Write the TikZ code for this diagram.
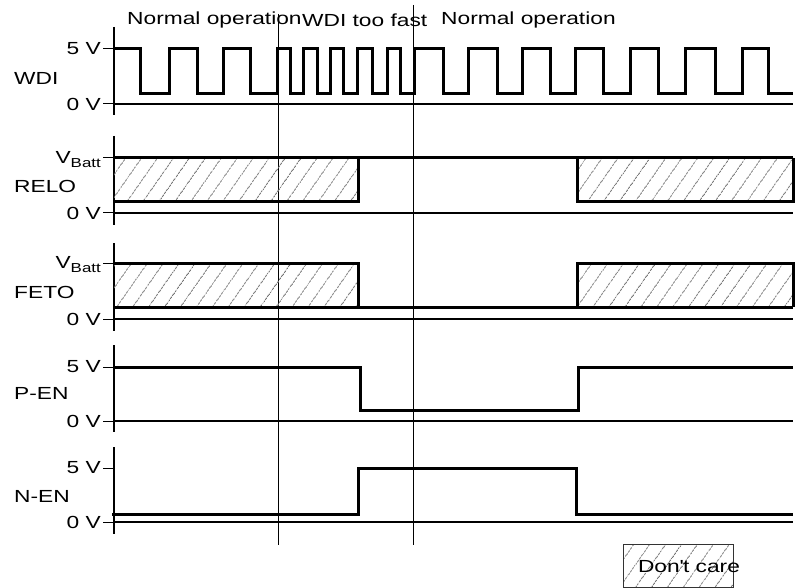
\documentclass[tikz,border=0pt]{standalone}
\usepackage{fontspec}
\setmainfont{Liberation Sans}[FakeStretch=1.3]
\usetikzlibrary{patterns.meta}
\newcommand{\vbatt}{V\raisebox{-4pt}{\fontsize{13}{15}\selectfont Batt}}

\begin{document}
\begin{tikzpicture}[x=1pt,y=-1pt]
  \tikzset{ lbl/.style={font=\fontsize{17.5}{20}\selectfont,inner sep=0pt},
    sig/.style={line width=3pt,line join=miter},
    zline/.style={line width=2pt},
    ax/.style={line width=2.5pt},
    tk/.style={line width=1pt},
    hatch/.style={pattern={Lines[angle=55,distance=13pt,line width=0.9pt]},pattern color=black!55},
  }
  \useasboundingbox (0,0) rectangle (795,588);

  % phase markers and their titles
  \draw[tk] (278,14) -- (278,545);
  \draw[tk] (413,5) -- (413,545);
  \node[lbl,anchor=west] (n1) at (127,20) {Normal operation};
  \node[lbl,anchor=west] (fast) at (n1.east) {WDI too fast};
  \node[lbl,anchor=west] (n2) at (441,20) {Normal operation};

  % WDI
  \draw[ax] (114,27) -- (114,115);
  \draw[tk] (103,49) -- (114,49);
  \draw[tk] (103,104) -- (114,104);
  \draw[zline] (114,104) -- (793,104);
  \node[lbl,anchor=east] (w5) at (101,49) {5 V};
  \node[lbl,anchor=east] (w0) at (101,104) {0 V};
  \node[lbl,anchor=west] (wdi) at (14,78) {WDI};
  \draw[sig] (114,49) -| (140,94) -| (169,49) -| (197,94) -| (223,49) -| (250,94)
    -| (277,49) -| (290,94) -| (303,49) -| (317,94) -| (330,49) -| (343,94)
    -| (357,49) -| (372,94) -| (387,49) -| (400,94) -| (414,49) -| (443,94)
    -| (468,49) -| (497,94) -| (522,49) -| (550,94) -| (575,49) -| (603,94)
    -| (630,49) -| (658,94) -| (685,49) -| (715,94) -| (742,49) -| (768,94) -- (793,94);

  % RELO
  \draw[ax] (114,136) -- (114,225);
  \draw[tk] (103,158) -- (114,158);
  \draw[tk] (103,213) -- (114,213);
  \draw[zline] (114,213) -- (793,213);
  \node[lbl,anchor=base east] (rv) at (101,164) {\vbatt};
  \node[lbl,anchor=east] (r0) at (101,213) {0 V};
  \node[lbl,anchor=west] (relo) at (14,186) {RELO};
  \path[hatch] (114,158) rectangle (358,202);
  \path[hatch] (577,158) rectangle (793,202);
  \draw[sig] (114,158) -- (793,158);
  \draw[sig] (114,202) -| (358,158);
  \draw[sig] (577,158) |- (793,202) -- (793,158);

  % FETO
  \draw[ax] (114,243) -- (114,331);
  \draw[tk] (103,263) -- (114,263);
  \draw[tk] (103,319) -- (114,319);
  \draw[zline] (114,319) -- (793,319);
  \node[lbl,anchor=base east] (fv) at (101,269) {\vbatt};
  \node[lbl,anchor=east] (f0) at (101,319) {0 V};
  \node[lbl,anchor=west] (feto) at (14,292) {FETO};
  \path[hatch] (114,263) rectangle (358,307);
  \path[hatch] (577,263) rectangle (793,307);
  \draw[sig] (114,307) -- (793,307);
  \draw[sig] (114,263) -| (358,307);
  \draw[sig] (577,307) |- (793,263) -- (793,307);

  % P-EN
  \draw[ax] (114,345) -- (114,432);
  \draw[tk] (103,367) -- (114,367);
  \draw[tk] (103,421) -- (114,421);
  \draw[zline] (114,421) -- (793,421);
  \node[lbl,anchor=east] (p5) at (101,367) {5 V};
  \node[lbl,anchor=east] (p0) at (101,421) {0 V};
  \node[lbl,anchor=west] (pen) at (14,393) {P-EN};
  \draw[sig] (114,367) -| (360,410) -| (578,367) -- (793,367);

  % N-EN
  \draw[ax] (114,447) -- (114,534);
  \draw[tk] (103,468) -- (114,468);
  \draw[tk] (103,522) -- (114,522);
  \draw[zline] (114,522) -- (793,522);
  \node[lbl,anchor=east] (n5) at (101,468) {5 V};
  \node[lbl,anchor=east] (n0) at (101,522) {0 V};
  \node[lbl,anchor=west] (nen) at (14,496) {N-EN};
  \draw[sig] (112,514) -| (358,468) -| (576,514) -- (793,514);

  % legend
  \node[hatch,draw=black!80,line width=1pt,minimum width=110pt,minimum height=43pt] (dc) at (678,565.5) {};
  \node[lbl] (dct) at (689,567) {Don\textquotesingle t care};
\end{tikzpicture}
\end{document}
